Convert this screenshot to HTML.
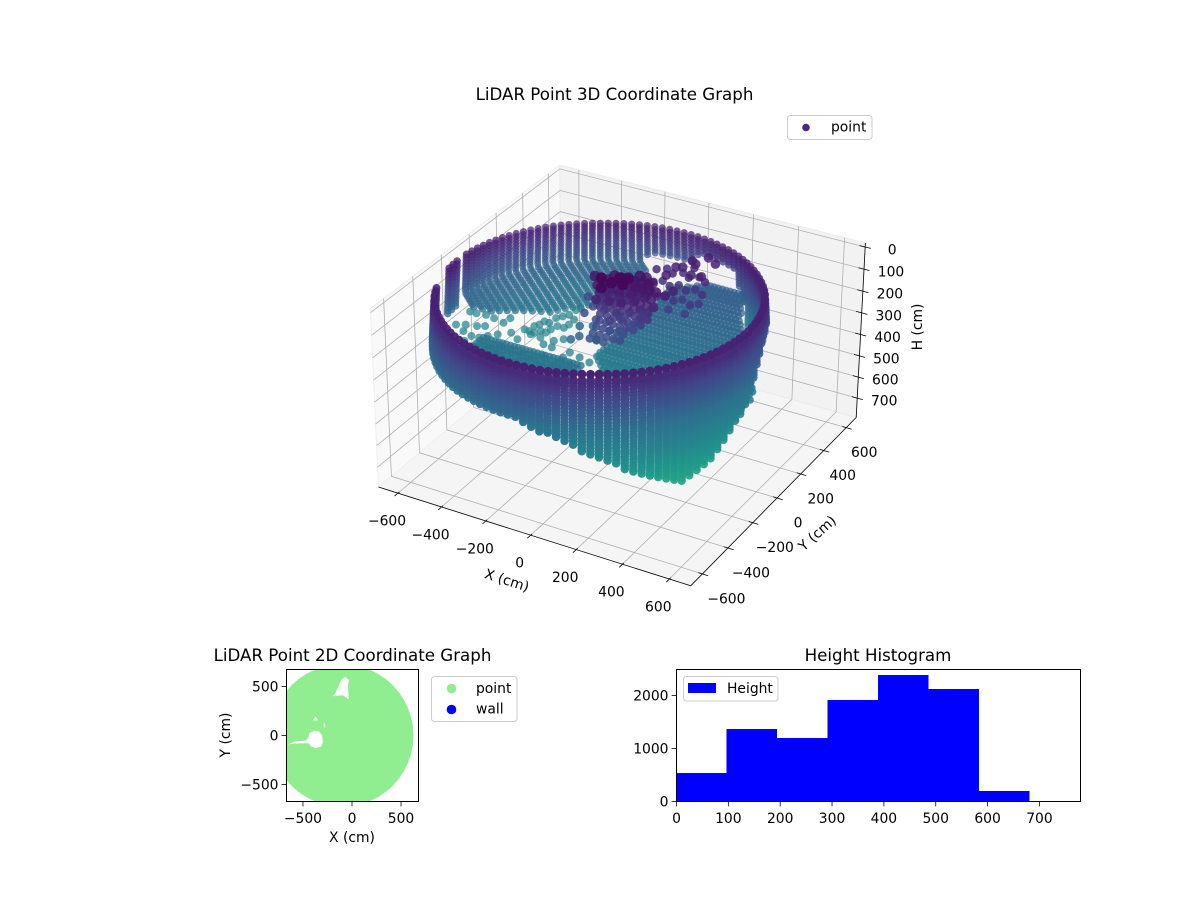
<!DOCTYPE html>
<html lang="en">
<head>
<meta charset="utf-8">
<title>LiDAR Point Graphs</title>
<style>
html,body{margin:0;padding:0;background:#fff;}
svg{display:block;font-family:"DejaVu Sans","Liberation Sans",sans-serif;fill:#000;}
.t10{font-size:13.89px;}
.t12{font-size:16.67px;}
</style>
</head>
<body>
<svg id="fig" width="1200" height="900" viewBox="0 0 1200 900" xmlns="http://www.w3.org/2000/svg">
  <rect width="1200" height="900" fill="#fff"/>
  <g id="axes3d"></g>
  <text class="t12" x="614.5" y="100" text-anchor="middle">LiDAR Point 3D Coordinate Graph</text>
  <text class="t10" x="507" y="585" text-anchor="middle" transform="rotate(17.7 507 580)">X (cm)</text>
  <text class="t10" x="817" y="538" text-anchor="middle" transform="rotate(-42 817 533)">Y (cm)</text>
  <text class="t10" x="917" y="332" text-anchor="middle" transform="rotate(-90 917 327)">H (cm)</text>
  <g>
    <rect x="787.5" y="115.5" width="84.5" height="24" rx="3" fill="#fff" fill-opacity="0.8" stroke="#ccc"/>
    <circle cx="806" cy="127.5" r="3.8" fill="#472a7a"/>
    <text class="t10" x="831" y="131.5">point</text>
  </g>

  <g id="axes2d"></g>
  <text class="t12" x="352.5" y="661" text-anchor="middle">LiDAR Point 2D Coordinate Graph</text>
  <text class="t10" x="352" y="842" text-anchor="middle">X (cm)</text>
  <text class="t10" x="230" y="735" text-anchor="middle" transform="rotate(-90 230 735)">Y (cm)</text>
  <g>
    <rect x="431.5" y="676.5" width="85.5" height="45" rx="3" fill="#fff" stroke="#ccc"/>
    <circle cx="451.5" cy="688.5" r="4.8" fill="#90ee90"/>
    <text class="t10" x="476" y="693">point</text>
    <circle cx="451.5" cy="709.5" r="4.8" fill="#0000ff"/>
    <text class="t10" x="476" y="713.5">wall</text>
  </g>

  <g id="axesHist"></g>
  <text class="t12" x="878" y="661" text-anchor="middle">Height Histogram</text>
  <g>
    <rect x="683.5" y="676.5" width="94.5" height="24.5" rx="3" fill="#fff" fill-opacity="0.8" stroke="#ccc"/>
    <rect x="688" y="683" width="28" height="10" fill="#0000ff"/>
    <text class="t10" x="727" y="693">Height</text>
  </g>
</svg>
<script>
/* ---------- 3D chart data ---------- */
const tick3dX = [-600,-400,-200,0,200,400,600];
const tick3dY = [-600,-400,-200,0,200,400,600];
const tick3dH = [0,100,200,300,400,500,600,700];

const ringCenterX = -100;
const ringCenterY = 0;
const rimH = 100;
const rimBeadGapH = 26;
const rimAnchorDeg = [-150,-120,-90,-60,-30,0,30,60,90,120,150,180,210];
const rimAnchorR = [635,628,612,600,612,628,635,628,612,600,612,628,635];
const profileH = [100,200,300,700];
const profileGrow = [1,1.01,1.02,1.02];
const slantStartH = 280;
const slantPerCmX = 2.5;
const slantPerCmY = -1.55;

const wallAngles =  [-177,-174,-171,-156,-153,-150,-147,-144,-141,-138,-135,-132,-129,-126,-123,-120,-117,-114,-111,-108,-105,-102,-99,-96,-93,-90,-87,-84,-81,-78,-75,-72,-69,-66,-63,-60,-57,-54,-51,-48,-45,-42,-39,-36,-33,-30,-27,-24,-21,-18,-15,-12,-9,-6,-3,0,3,6,9,12,15,18,21,24,27,30,33,36,39,42,45,48,51,54,57,60,63,66,69,72,75,78,81,84,87,90,93,96,99,102,105,108,111,114,117,120,123,126,129,132,135,138,141,144,147,150,153,156,159,162,165,168,171,174,177];
const wallBottomH = [310,310,310,320,328,335,333,331,329,326,324,325,326,327,328,329,329,329,330,330,330,330,330,331,331,331,342,353,365,376,387,403,419,435,450,466,484,502,520,539,557,571,585,599,613,627,612,598,583,561,535,508,483,460,438,415,370,325,280,255,230,210,200,200,210,230,260,310,370,400,430,450,440,400,300,250,170,170,170,170,170,170,190,230,230,230,230,230,230,240,300,340,345,350,355,360,365,365,365,365,365,365,365,365,365,365,360,355,350,345,340,335,330,320,310];

const floorRowY      = [-200,-174,-148,-122,-96,-70,-44,-18,8,25,50,78,104,130,156,182,208,234,260,286,312,338,364,390,416,442,468,494,520,546,572,598,624,650,676,702,728,754,780];
const floorRowXStart = [-640,-640,-640,-640,-640,-640,-640,-640,-640,-110,-114,-140,-165,-189,-189,-188,-187,-187,-186,-186,-183,-180,-176,-172,-168,-165,-162,-162,-162,-163,-163,-163,-163,-163,-163,-145,-110,-80,-50];
const floorRowXEnd   = [-190,-190,-190,-190,-190,-190,-190,-190,-190,500,500,500,500,500,490,480,470,460,440,420,400,380,360,350,320,300,290,270,260,240,220,200,190,180,170,160,150,140,126];
const floorRowH      = [450,450,450,450,450,450,450,450,450,470,470,470,470,470,465,465,465,460,460,460,455,455,450,450,445,445,440,440,435,435,430,430,425,425,420,420,420,420,420];
const floorRowShade  = [0.38,0.38,0.38,0.38,0.38,0.38,0.38,0.38,0.38,0.42,0.42,0.42,0.41,0.41,0.40,0.40,0.39,0.39,0.38,0.38,0.37,0.37,0.36,0.36,0.35,0.35,0.34,0.34,0.33,0.33,0.33,0.32,0.32,0.32,0.31,0.31,0.31,0.30,0.30];

const scatterH = 450;
const scatterX = [-792,-758,-712,-684,-738,-689,-692,-655,-632,-605,-627,-587,-547,-500,-452,-398,-344,-298,-284,-280,-227,-173,-164,-592,-532,-479,-437,-371,-241,-263,-800,-770,-730,-687,-634,-630,-565,-516,-532,-509,-512,-501,-497,-474,-485,-469,-445,-441,-443,-490,-470,-454,-438,-434,-424,-401,-398,-402,-432,-383,-356,-405,-363,-362];
const scatterY = [44,63,75,91,14,-4,-51,0,28,59,-60,-37,-15,-18,-22,-36,-52,-26,28,75,61,45,110,-70,-67,-82,-74,-82,6,-35,162,163,171,164,150,196,97,64,146,143,188,209,241,240,142,166,165,197,120,124,287,312,336,383,405,312,267,234,233,124,154,81,75,5];

const objectX = [-93,-54,-31,-3,-40,5,-25,-83,-44,1,22,-96,-45,1,40,59,19,31,43,44,67,127,168,99,118,75,166,130,121,-224,-168,-116,-63,-18,3,-28,-171,-105,-53,-8,42,-39,-222,-177,-199,-183,-113,-101,-67];
const objectY = [0,-68,35,51,-15,-4,140,32,54,80,122,-35,-21,-10,27,82,180,186,268,344,357,315,324,404,474,421,442,167,118,123,65,64,64,90,131,264,4,-20,-5,20,63,48,54,80,-53,-15,-5,78,97];
const objectH = [20,20,20,20,20,20,100,100,100,100,100,100,100,100,100,100,100,100,100,100,100,100,100,100,100,100,100,100,100,200,200,200,200,200,200,200,200,200,200,200,200,200,300,300,300,300,300,300,300];

const objectRowY      = [149,103,79,51,34,16,-1,-19,-36,-54,-88,-115];
const objectRowXStart = [-8,-94,-167,-142,-121,-107,-98,-87,-80,-84,-79,-77];
const objectRowXEnd   = [26,76,107,113,119,121,120,101,83,64,54,-3];
const objectRowH      = [60,60,70,90,110,130,150,170,190,210,220,230];

const debrisRowY      = [420,380,340,300,260,220,180,140];
const debrisRowXStart = [85,-15,-40,10,-9,70,53,125];
const debrisRowXEnd   = [132,155,178,201,224,247,230,220];
const debrisRowH      = [130,140,130,150,140,160,150,170];

const colorStopH = [0,100,200,330,450,650,800];
const colorStopT = [0,0.09,0.22,0.37,0.45,0.62,0.75];

/* ---------- 2D chart data ---------- */
const tick2d = [-500,0,500];
const footprintCenterX = -100;
const footprintCenterY = 0;
const footprintAngles = [0,7.5,15,22.5,30,37.5,45,52.5,60,67.5,75,82.5,90,97.5,105,112.5,120,127.5,135,142.5,150,157.5,165,172.5,180,187.5,195,202.5,210,217.5,225,232.5,240,247.5,255,262.5,270,277.5,285,292.5,300,307.5,315,322.5,330,337.5,345,352.5];
const footprintRadius = [722,722,722,722,722,722,722,722,722,722,722,722,722,722,722,722,722,722,722,722,722,722,722,722,722,722,722,722,722,722,722,722,722,722,722,722,722,722,722,722,722,722,722,722,722,722,722,722];
const holeAX = [-196,-162,-111,-70,-29,-43,-32,-94];
const holeAY = [401,445,565,599,565,514,366,411];
const holeBX = [-400,-372,-345];
const holeBY = [154,195,154];
const holeCX = [-287,-274,-274,-287];
const holeCY = [120,127,79,92];
const holeDX = [-655,-587,-468,-445,-434,-383,-332,-305,-298,-315,-372,-420,-440,-519,-621];
const holeDY = [-92,-62,-51,-20,24,51,40,0,-68,-113,-130,-110,-80,-79,-86];

/* ---------- histogram data ---------- */
const histEdges = [0,97.4,194.8,292.2,389.6,487,584.4,681.8,779.2];
const histCounts = [528,1358,1189,1906,2377,2113,189,0];
const histTickX = [0,100,200,300,400,500,600,700];
const histTickY = [0,1000,2000];

/* ---------- helpers ---------- */
const NS = 'http://www.w3.org/2000/svg';
function el(parent, tag, attrs, txt){
  const e = document.createElementNS(NS, tag);
  for (const k in attrs) e.setAttribute(k, attrs[k]);
  if (txt !== undefined) e.textContent = txt;
  parent.appendChild(e);
  return e;
}
function fmt(v){ return v < 0 ? '\u2212' + Math.abs(v) : String(v); }
function lookup(xs, ys, v){
  if (v <= xs[0]) return ys[0];
  for (let i = 1; i < xs.length; i++) {
    if (v <= xs[i]) {
      return ys[i-1] + (ys[i] - ys[i-1]) * (v - xs[i-1]) / (xs[i] - xs[i-1]);
    }
  }
  return ys[ys.length-1];
}

/* ---------- 3D axis functions ---------- */
const LIM = 690;
function nx(x){ return x / LIM; }
function nz(h){ return 1 - 2 * (h + 18) / 811; }
function den(a,b,c){ return 1 - 0.0247*a + 0.0428*b - 0.018*c; }
function pN(a,b,c){
  const d = den(a,b,c);
  return [(622 + 139*a + 115.3*b - 10.8*c)/d, (365 + 34.9*a - 62.1*b - 94.8*c)/d];
}
function pts(list){ return list.map(p => p[0].toFixed(1)+','+p[1].toFixed(1)).join(' '); }

const a3 = document.getElementById('axes3d');

const paneFloor = el(a3,'polygon',{points:pts([pN(-1,-1,-1),pN(1,-1,-1),pN(1,1,-1),pN(-1,1,-1)]),fill:'#f5f5f5',stroke:'#efefef'});


const paneLeft = el(a3,'polygon',{points:pts([pN(-1,-1,-1),pN(-1,-1,1),pN(-1,1,1),pN(-1,1,-1)]),fill:'#f9f9f9',stroke:'#efefef'});


const paneBack = el(a3,'polygon',{points:pts([pN(-1,1,-1),pN(-1,1,1),pN(1,1,1),pN(1,1,-1)]),fill:'#f2f2f2',stroke:'#ebebeb'});



const GRID = {fill:'none',stroke:'#b0b0b0','stroke-width':0.8};
tick3dX.forEach(v => {
  const g = el(a3,'polyline',Object.assign({points:pts([pN(nx(v),-1,-1),pN(nx(v),1,-1),pN(nx(v),1,1)])},GRID));
  
  
});
tick3dY.forEach(v => {
  const g = el(a3,'polyline',Object.assign({points:pts([pN(1,nx(v),-1),pN(-1,nx(v),-1),pN(-1,nx(v),1)])},GRID));
  
  
});
tick3dH.forEach(v => {
  const g = el(a3,'polyline',Object.assign({points:pts([pN(-1,-1,nz(v)),pN(-1,1,nz(v)),pN(1,1,nz(v))])},GRID));
  
  
});

const AX = {fill:'none',stroke:'#000','stroke-width':0.8};
const axisX = el(a3,'polyline',Object.assign({points:pts([pN(-1,-1,-1),pN(1,-1,-1)])},AX));


const axisY = el(a3,'polyline',Object.assign({points:pts([pN(1,-1,-1),pN(1,1,-1)])},AX));


const axisH = el(a3,'polyline',Object.assign({points:pts([pN(1,1,-1),pN(1,1,1)])},AX));



tick3dX.forEach(v => {
  const t = el(a3,'polyline',Object.assign({points:pts([pN(nx(v),-1.035,-1),pN(nx(v),-0.985,-1)])},AX));
  
  
  const p = pN(nx(v),-1,-1);
  const l = el(a3,'text',{class:'t10',x:(p[0]-11).toFixed(1),y:(p[1]+32.5).toFixed(1),'text-anchor':'middle'},fmt(v));
  
  
});
tick3dY.forEach(v => {
  const t = el(a3,'polyline',Object.assign({points:pts([pN(0.975,nx(v),-1),pN(1.035,nx(v),-1)])},AX));
  
  
  const p = pN(1,nx(v),-1);
  const l = el(a3,'text',{class:'t10',x:(p[0]+21-3.45*nx(v)).toFixed(1),y:(p[1]+29.5).toFixed(1),'text-anchor':'middle'},fmt(v));
  
  
});
tick3dH.forEach(v => {
  const t = el(a3,'polyline',Object.assign({points:pts([pN(0.965,1,nz(v)),pN(1.035,1,nz(v))])},AX));
  
  
  const p = pN(1,1,nz(v));
  const l = el(a3,'text',{class:'t10',x:(p[0]+27).toFixed(1),y:(p[1]+7.5).toFixed(1),'text-anchor':'middle'},String(v));
  
  
});

/* viridis colormap stops */
const VIR = [[68,1,84],[72,36,117],[65,68,135],[53,95,141],[42,120,142],[33,145,140],[34,168,132],[68,191,112],[122,209,81],[189,223,38],[253,231,37]];
function viridis(t){
  t = Math.max(0, Math.min(0.999, t)) * 10;
  const i = Math.floor(t), f = t - i, a = VIR[i], b = VIR[i+1];
  return 'rgb(' + [0,1,2].map(k => Math.round(a[k] + (b[k]-a[k])*f)).join(',') + ')';
}
function colorOf(h){ return viridis(lookup(colorStopH, colorStopT, h)); }

/* build point list from data arrays */
const cloud = [];
wallAngles.forEach((deg,i) => {
  const th = deg * Math.PI / 180;
  const base = lookup(rimAnchorDeg, rimAnchorR, deg < -150 ? deg + 360 : deg);
  const slanted = deg >= 105;
  const nearSide = deg >= -150 && deg <= 30;
  let h = rimH;
  while (h <= wallBottomH[i]) {
    const r = base * lookup(profileH, profileGrow, h);
    let x = ringCenterX + r*Math.cos(th), y = ringCenterY + r*Math.sin(th);
    if (slanted && h > slantStartH) {
      x += (h - slantStartH) * slantPerCmX;
      y += (h - slantStartH) * slantPerCmY;
    }
    cloud.push({x: x, y: y, h: h, s: 0, kind: 'wall-point'});
    if (h === rimH && nearSide) h += rimBeadGapH;
    else if (slanted && h >= slantStartH) h += 5;
    else h += 14;
  }
});
floorRowY.forEach((y,i) => {
  for (let x = floorRowXStart[i]; x <= floorRowXEnd[i]; x += 18) {
    cloud.push({x: x, y: y, h: floorRowH[i], s: 3.8, t: floorRowShade[i], kind: 'floor-point'});
  }
});
scatterX.forEach((x,i) => {
  cloud.push({x: x, y: scatterY[i], h: scatterH, s: 4, kind: 'floor-scatter-point'});
});
objectX.forEach((x,i) => {
  cloud.push({x: x, y: objectY[i], h: objectH[i], s: objectH[i] < 50 ? 5.6 : (objectH[i] < 150 ? 4.8 : 4.3), solid: true, kind: 'object-point'});
});
objectRowY.forEach((y,i) => {
  for (let x = objectRowXStart[i]; x <= objectRowXEnd[i]; x += 30) {
    cloud.push({x: x, y: y, h: objectRowH[i], s: objectRowH[i] < 80 ? 5.4 : (objectRowH[i] < 150 ? 4.8 : 4.2), solid: true, kind: 'object-point'});
  }
});
debrisRowY.forEach((y,i) => {
  for (let x = debrisRowXStart[i]; x <= debrisRowXEnd[i]; x += 72) {
    cloud.push({x: x, y: y, h: debrisRowH[i], s: 4.2, solid: true, kind: 'debris-point'});
  }
});
cloud.forEach(p => {
  p.d = den(nx(p.x), nx(p.y), nz(p.h));
  if (p.s === 0) {
    p.s = Math.max(3.4, Math.min(4.5, 3.5 + (1.04 - p.d) * 10));
  }
});
cloud.sort((a,b) => b.d - a.d);

const cloudGroup = el(a3,'g',{});


cloud.forEach(p => {
  const q = pN(nx(p.x), nx(p.y), nz(p.h));
  const floorAlpha = p.solid ? 0.85 : 0.72;
  const alpha = Math.max(floorAlpha, Math.min(1, 1 - (p.d - 0.955) / 0.075 * 0.28));
  const fillColor = p.t !== undefined ? viridis(p.t) : colorOf(p.h);
  const c = el(cloudGroup,'circle',{cx:q[0].toFixed(1),cy:q[1].toFixed(1),r:p.s.toFixed(2),fill:fillColor,'fill-opacity':alpha.toFixed(2)});
  
  
});

/* ---------- 2D scatter footprint ---------- */
const a2 = document.getElementById('axes2d');
const A2 = {l:286, r:418, t:669, b:801};
const LIM2 = 673;
function sx2(x){ return (A2.l + A2.r)/2 + x * (A2.r - A2.l) / (2*LIM2); }
function sy2(y){ return (A2.t + A2.b)/2 + 0.5 - y * (A2.b - A2.t) / (2*LIM2); }
const defs = el(a2,'defs',{});
const clip = el(defs,'clipPath',{id:'clip2d'});
el(clip,'rect',{x:A2.l,y:A2.t,width:A2.r-A2.l,height:A2.b-A2.t});
const plot2 = el(a2,'g',{'clip-path':'url(#clip2d)'});


const footprintPts = footprintAngles.map((deg,i) => {
  const th = deg*Math.PI/180;
  return [sx2(footprintCenterX + footprintRadius[i]*Math.cos(th)), sy2(footprintCenterY + footprintRadius[i]*Math.sin(th))];
});
const fp = el(plot2,'path',{d:'M'+footprintPts.map(p=>p[0].toFixed(1)+' '+p[1].toFixed(1)).join('L')+'Z',fill:'#90ee90',stroke:'#90ee90','stroke-linejoin':'round'});


[[holeAX,holeAY],[holeBX,holeBY],[holeCX,holeCY],[holeDX,holeDY]].forEach(h => {
  const list = h[0].map((x,i) => [sx2(x), sy2(h[1][i])]);
  const poly = el(plot2,'polygon',{points:pts(list),fill:'#fff'});
  
  
});
const frame2 = el(a2,'rect',{x:A2.l+0.5,y:A2.t+0.5,width:A2.r-A2.l,height:A2.b-A2.t,fill:'none',stroke:'#000','stroke-width':1});


tick2d.forEach(v => {
  const x = sx2(v), y = sy2(v);
  const tx = el(a2,'line',{x1:x,x2:x,y1:A2.b+0.5,y2:A2.b+5.4,stroke:'#000','stroke-width':0.8});
  
  
  const lx = el(a2,'text',{class:'t10',x:x,y:823,'text-anchor':'middle'},fmt(v));
  
  
  const ty = el(a2,'line',{x1:A2.l+0.5,x2:A2.l-4.4,y1:y,y2:y,stroke:'#000','stroke-width':0.8});
  
  
  const ly = el(a2,'text',{class:'t10',x:278.5,y:y+5,'text-anchor':'end'},fmt(v));
  
  
});

/* ---------- histogram ---------- */
const ah = document.getElementById('axesHist');
const AH = {l:676, r:1080, t:669, b:801};
const HX_MAX = 779.2, HY_MAX = 2490;
function sxH(v){ return AH.l + v * (AH.r - AH.l) / HX_MAX; }
function syH(v){ return AH.b - v * (AH.b - AH.t) / HY_MAX; }
histCounts.forEach((c,i) => {
  const x0 = sxH(histEdges[i]), x1 = sxH(histEdges[i+1]);
  const b = el(ah,'rect',{x:x0.toFixed(2),y:syH(c).toFixed(2),width:(x1-x0).toFixed(2),height:(AH.b+0.5-syH(c)).toFixed(2),fill:'#0000ff'});
  
  
});
const frameH = el(ah,'rect',{x:AH.l+0.5,y:AH.t+0.5,width:AH.r-AH.l,height:AH.b-AH.t,fill:'none',stroke:'#000','stroke-width':1});


histTickX.forEach(v => {
  const x = sxH(v)+0.5;
  const t = el(ah,'line',{x1:x,x2:x,y1:AH.b+0.5,y2:AH.b+5.4,stroke:'#000','stroke-width':0.8});
  
  
  const l = el(ah,'text',{class:'t10',x:x,y:823,'text-anchor':'middle'},String(v));
  
  
});
histTickY.forEach(v => {
  const y = syH(v)+0.5;
  const t = el(ah,'line',{x1:AH.l+0.5,x2:AH.l-4.4,y1:y,y2:y,stroke:'#000','stroke-width':0.8});
  
  
  const l = el(ah,'text',{class:'t10',x:668.5,y:y+5,'text-anchor':'end'},String(v));
  
  
});
</script>
</body>
</html>
